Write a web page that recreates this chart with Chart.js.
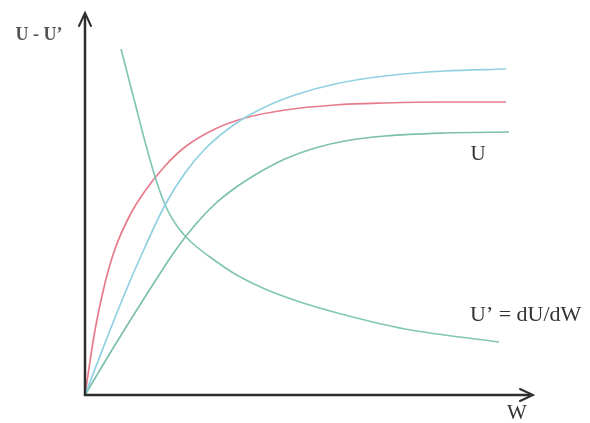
<!DOCTYPE html>
<html>
<head>
<meta charset="utf-8">
<script src="https://cdn.jsdelivr.net/npm/chart.js@4/dist/chart.umd.min.js"></script>
<style>
    html, body { margin: 0; padding: 0; background: #fff; }
    canvas { display: block; }
</style>
</head>
<body>
<canvas id="courbes" width="590" height="423"></canvas>
<script>
"use strict";

// valeurs (W en abscisse, U en ordonnée)
const wRouge = [0, 10, 20, 30, 45, 60, 80, 100, 130, 160, 200, 250, 300, 360, 421];
const uRouge = [0, 65, 112, 146, 180, 204, 229, 248, 266, 277, 285, 290, 292, 293, 293];

const wBleu = [0, 20, 40, 60, 80, 100, 120, 150, 180, 210, 250, 300, 360, 421];
const uBleu = [0, 52, 102, 148, 190, 222, 246, 271, 288, 300, 311, 319, 324, 326];

const wVert = [0, 30, 60, 90, 110, 130, 150, 175, 200, 230, 260, 300, 360, 424];
const uVert = [0, 50, 98, 144, 170, 191, 207, 223, 236, 247, 254, 259, 262, 263];

const wDerivee = [36, 50, 62, 72, 82, 92, 105, 125, 150, 180, 215, 260, 320, 414];
const uDerivee = [346, 292, 246, 212, 186, 169, 154, 138, 121, 106, 93, 80, 66, 53];

const wMax = 448;
const uMax = 382;

/**
 * Construit les points {x, y} à partir de deux tableaux
 */
function points(xs, ys) {
    return xs.map((x, i) => ({x: x, y: ys[i]}));
}

function serie(xs, ys, couleur) {
    return {
        data: points(xs, ys),
        borderColor: couleur,
        borderWidth: 1.7,
        pointRadius: 0,
        showLine: true,
        fill: false,
        cubicInterpolationMode: 'monotone'
    };
}

/**
 * Dessine les axes avec flèches et les textes
 */
const axesEtTextes = {
    id: 'axesEtTextes',
    afterDraw(chart) {
        const {ctx, scales: {x, y}} = chart;
        const x0 = x.getPixelForValue(0);
        const y0 = y.getPixelForValue(0);
        const xFin = x.getPixelForValue(wMax);
        const yFin = y.getPixelForValue(uMax);

        ctx.save();
        ctx.strokeStyle = '#2e2e2e';
        ctx.fillStyle = '#2e2e2e';
        ctx.lineWidth = 2.5;
        ctx.lineCap = 'square';

        ctx.beginPath();
        ctx.moveTo(x0, yFin + 4);
        ctx.lineTo(x0, y0);
        ctx.lineTo(xFin - 4, y0);
        ctx.stroke();

        // flèche verticale
        ctx.lineWidth = 2;
        ctx.lineCap = 'round';
        ctx.beginPath();
        ctx.moveTo(x0 - 6, yFin + 13);
        ctx.lineTo(x0, yFin);
        ctx.lineTo(x0 + 6, yFin + 13);
        ctx.stroke();

        // flèche horizontale
        ctx.beginPath();
        ctx.moveTo(xFin - 13, y0 - 6);
        ctx.lineTo(xFin, y0);
        ctx.lineTo(xFin - 13, y0 + 6);
        ctx.stroke();

        // textes
        ctx.textBaseline = 'middle';
        ctx.fillStyle = '#555';
        ctx.font = "bold 18px 'Liberation Serif'";
        ctx.textAlign = 'center';
        ctx.fillText("U - U\u2019", x0 - 46, yFin + 22);

        ctx.fillStyle = '#333';
        ctx.font = "21px 'Liberation Serif'";
        ctx.fillText('U', x.getPixelForValue(393), y.getPixelForValue(241));
        ctx.fillText('W', x.getPixelForValue(432), y0 + 18);

        ctx.font = "22px 'Liberation Serif'";
        ctx.textAlign = 'left';
        ctx.fillText("U\u2019 = dU/dW", x.getPixelForValue(385), y.getPixelForValue(80));
        ctx.restore();
    }
};

const graphe = (function () {
    const ctx = document.getElementById('courbes');
    let chart;

    function init() {
        const config = {
            type: 'scatter',
            data: {
                datasets: [
                    serie(wBleu, uBleu, '#91d0e2'),
                    serie(wVert, uVert, '#7dc0ad'),
                    serie(wDerivee, uDerivee, '#82c6b5'),
                    serie(wRouge, uRouge, '#e77b8c')
                ]
            },
            options: {
                responsive: false,
                animation: false,
                clip: false,
                layout: {
                    padding: {left: 85, top: 13, right: 57, bottom: 28}
                },
                plugins: {
                    legend: {display: false},
                    tooltip: {enabled: false}
                },
                scales: {
                    x: {type: 'linear', min: 0, max: wMax, display: false},
                    y: {type: 'linear', min: 0, max: uMax, display: false}
                }
            },
            plugins: [axesEtTextes]
        };

        chart = new Chart(ctx, config);
    }

    return {
        init
    };
})();

graphe.init();
</script>
</body>
</html>
